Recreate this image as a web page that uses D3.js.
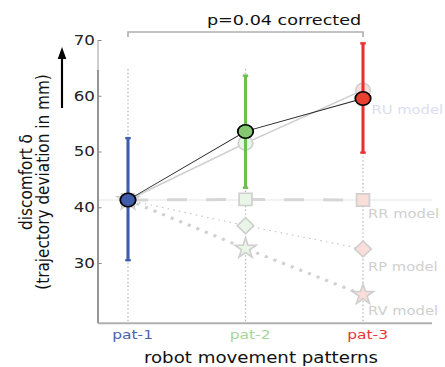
<!DOCTYPE html>
<html>
<head>
<meta charset="utf-8">
<script src="https://cdn.jsdelivr.net/npm/d3@7/dist/d3.min.js"></script>
<style>
  html, body { margin: 0; padding: 0; background: #fff; }
  svg { display: block; }
  text { font-family: "DejaVu Sans", Verdana, sans-serif; }
</style>
</head>
<body>
<svg id="chart" width="445" height="367"></svg>
<script>
// ---- data ----
const categories = ["pat-1", "pat-2", "pat-3"];
const categoryColors = ["#3f5dab", "#86c872", "#e8402e"];
const barColors = ["#3f5dab", "#6cbf4c", "#ee2e2e"];
const labelColors = ["#4a63b0", "#a6d69a", "#e8333a"];
const meanValues = [41.3, 53.6, 59.5];
const errLow = [30.5, 43.5, 49.8];
const errHigh = [52.4, 63.6, 69.4];
const ruModel = [41.3, 51.5, 61.0];
const rrModel = [41.3, 41.4, 41.3];
const rpModel = [41.3, 36.7, 32.5];
const rvModel = [41.3, 32.6, 24.3];
const modelNames = ["RU model", "RR model", "RP model", "RV model"];
const yTicks = [30, 40, 50, 60, 70];
const pText = "p=0.04 corrected";

// ---- layout ----
const SX = 1.19;                 // horizontal stretch of the original figure
const svg = d3.select("#chart");
const g = svg.append("g").attr("transform", `scale(${SX},1)`);

const axisX = 98 / SX, axisEndX = 432 / SX;
const yBottomVal = 19.2;

const x = d3.scalePoint().domain(categories).range([128 / SX, 363 / SX]);
const y = d3.scaleLinear().domain([70, 30]).range([40, 263]);
const yb = y(yBottomVal);

// vertical dotted guide lines
g.selectAll(".guide").data(categories).enter().append("line")
  .attr("x1", d => x(d)).attr("x2", d => x(d))
  .attr("y1", y(64.8)).attr("y2", yb)
  .attr("stroke", "#b8b8b8").attr("stroke-width", 1.1)
  .attr("stroke-dasharray", "1.4 2.4");

// y axis spine
g.append("line").attr("x1", axisX).attr("x2", axisX)
  .attr("y1", y(70)).attr("y2", yb).attr("stroke", "#c4c4c4").attr("stroke-width", 1.4);
g.append("line").attr("x1", axisX).attr("x2", axisX)
  .attr("y1", y(64.6)).attr("y2", yb).attr("stroke", "#8a8a8a").attr("stroke-width", 1.4);

const yAxis = d3.axisLeft(y).tickValues(yTicks).tickSize(-3).tickPadding(2.6).tickFormat(d3.format("d"));
const yg = g.append("g").attr("transform", `translate(${axisX},0)`).call(yAxis);
yg.select(".domain").remove();
yg.selectAll(".tick line").attr("stroke", "#888").attr("stroke-width", 1);
yg.selectAll(".tick text").attr("fill", "#222").style("font-size", "14px")
  .style("font-family", "'DejaVu Sans', Verdana, sans-serif");

// x axis
g.append("line").attr("x1", axisX).attr("x2", axisEndX).attr("y1", yb).attr("y2", yb)
  .attr("stroke", "#b0b0b0").attr("stroke-width", 2);
const xAxis = d3.axisBottom(x).tickSize(0).tickPadding(7);
const xg = g.append("g").attr("transform", `translate(0,${yb})`).call(xAxis);
xg.select(".domain").remove();
xg.selectAll(".tick text")
  .attr("fill", (d, i) => labelColors[i]).attr("dx", 3.4)
  .style("font-size", "13px").style("font-family", "'DejaVu Sans', Verdana, sans-serif");

// axis titles
g.append("text").attr("x", 261 / SX).attr("y", 363)
  .attr("text-anchor", "middle").style("font-size", "15.3px").attr("fill", "#111")
  .text("robot movement patterns");
g.append("text").attr("transform", `translate(26.8,182) rotate(-90)`)
  .attr("text-anchor", "middle").style("font-size", "15.3px").attr("fill", "#111")
  .text("discomfort δ");
g.append("text").attr("transform", `translate(41.1,182) rotate(-90)`)
  .attr("text-anchor", "middle").style("font-size", "15.3px").attr("fill", "#111")
  .text("(trajectory deviation in mm)");

// arrow
g.append("line").attr("x1", 52.1).attr("x2", 52.1).attr("y1", 108).attr("y2", 55)
  .attr("stroke", "#000").attr("stroke-width", 1.8);
g.append("path")
  .attr("d", `M${52.1},47 L${52.1 - 3.6},59 L${52.1 + 3.6},59 Z`).attr("fill", "#000");

// significance bracket
const by = 32, bt = 37;
g.append("path")
  .attr("d", `M${x("pat-1")},${bt} L${x("pat-1")},${by} L${x("pat-3")},${by} L${x("pat-3")},${bt}`)
  .attr("fill", "none").attr("stroke", "#b0b0b0").attr("stroke-width", 1.4);
g.append("text").attr("x", x("pat-3") - 1.5).attr("y", 25)
  .attr("text-anchor", "end").style("font-size", "14.8px").attr("fill", "#111")
  .text(pText);

// RR model: faint solid baseline and dashed segment
g.append("line").attr("x1", axisX + 1).attr("x2", axisEndX)
  .attr("y1", y(rrModel[0])).attr("y2", y(rrModel[0]))
  .attr("stroke", "#e6e6e6").attr("stroke-width", 1.2);
const line = d3.line().x((d, i) => x(categories[i])).y(d => y(d));
g.append("path").datum(rrModel).attr("d", line).attr("fill", "none")
  .attr("stroke", "#d6d6d6").attr("stroke-width", 3).attr("stroke-dasharray", "16.8 16");
// RP model
g.append("path").datum(rpModel).attr("d", line).attr("fill", "none")
  .attr("stroke", "#c8c8c8").attr("stroke-width", 1.2).attr("stroke-dasharray", "1.3 3.6");
// RV model
g.append("path").datum(rvModel).attr("d", line).attr("fill", "none")
  .attr("stroke", "#d0d0d0").attr("stroke-width", 3).attr("stroke-dasharray", "2.6 5.4");
// RU model
g.append("path").datum(ruModel).attr("d", line).attr("fill", "none")
  .attr("stroke", "#cfcfcf").attr("stroke-width", 1.5);

// ghost markers
function ghost(data, symbolType, size, rot) {
  g.selectAll(null).data(data).enter().append("path")
    .attr("d", d3.symbol().type(symbolType).size(size))
    .attr("transform", (d, i) => `translate(${x(categories[i])},${y(d)}) scale(${1 / SX * 1.05},1) rotate(${rot})`)
    .attr("fill", (d, i) => d3.interpolateRgb("#ffffff", categoryColors[i])(0.18))
    .attr("stroke", "#cfcfcf").attr("stroke-width", 1.6);
}
ghost(rvModel, d3.symbolStar, 125, 0);
ghost(rpModel, d3.symbolSquare, 125, 45);
ghost(rrModel, d3.symbolSquare, 150, 0);
ghost(ruModel, d3.symbolCircle, 150, 0);

// model labels
const modelLast = [ruModel[2], rrModel[2], rpModel[2], rvModel[2]];
const labelOffsets = [24, 18, 22, 20];
g.selectAll(".mlab").data(modelNames).enter().append("text")
  .attr("x", (d, i) => x("pat-3") + (i === 0 ? 8.5 : 5) / SX)
  .attr("y", (d, i) => y(modelLast[i]) + labelOffsets[i])
  .style("font-size", "12.4px")
  .attr("fill", (d, i) => i === 0 ? "#dadef0" : "#cfcfcf")
  .text(d => d);

// error bars
const capW = 2.3;
categories.forEach((c, i) => {
  g.append("line").attr("x1", x(c)).attr("x2", x(c))
    .attr("y1", y(errLow[i])).attr("y2", y(errHigh[i]))
    .attr("stroke", barColors[i]).attr("stroke-width", 2.6);
  [errLow[i], errHigh[i]].forEach(v => {
    g.append("line").attr("x1", x(c) - capW).attr("x2", x(c) + capW)
      .attr("y1", y(v)).attr("y2", y(v))
      .attr("stroke", barColors[i]).attr("stroke-width", 2.4);
  });
});

// mean line
g.append("path").datum(meanValues).attr("d", line).attr("fill", "none")
  .attr("stroke", "#222").attr("stroke-width", 0.9);

// mean circles
g.selectAll(".mean").data(meanValues).enter().append("ellipse")
  .attr("cx", (d, i) => x(categories[i])).attr("cy", d => y(d))
  .attr("rx", 6.5).attr("ry", 6.7)
  .attr("fill", (d, i) => categoryColors[i])
  .attr("stroke", "#000").attr("stroke-width", 1.5);
</script>
</body>
</html>
